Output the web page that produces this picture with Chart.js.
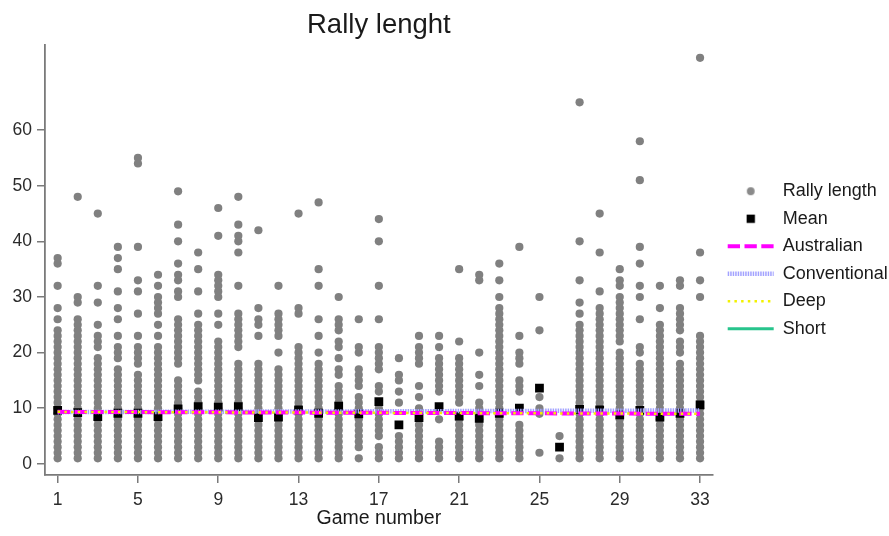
<!DOCTYPE html>
<html>
<head>
<meta charset="utf-8">
<script src="https://cdn.jsdelivr.net/npm/chart.js@4.4.1/dist/chart.umd.min.js"></script>
<style>
html, body { margin: 0; padding: 0; background: #ffffff; }
canvas { display: block; }
</style>
</head>
<body>
<canvas id="chart" width="889" height="536"></canvas>
<script>
// ---------- data ----------
const chartTitle = 'Rally lenght';
const xAxisTitle = 'Game number';
const seriesLabels = ['Rally length', 'Mean', 'Australian', 'Conventional', 'Deep', 'Short'];

const games = [1,2,3,4,5,6,7,8,9,10,11,12,13,14,15,16,17,18,19,20,21,22,23,24,25,26,27,28,29,30,31,32,33];

// distinct rally lengths observed in each game (one list per game)
const rallyLengths = [
  [1,2,3,4,5,6,7,8,9,10,11,12,13,14,15,16,17,18,19,20,21,22,23,24,26,28,32,36,37],
  [1,2,3,4,5,6,7,8,9,10,11,12,13,14,15,16,17,18,19,20,21,22,23,24,25,26,29,30,48],
  [1,2,3,4,5,6,7,8,9,10,11,12,13,14,15,16,17,18,19,21,22,23,25,29,32,45],
  [1,2,3,4,5,6,7,8,9,10,11,12,13,14,15,16,17,19,20,21,23,26,28,31,35,37,39],
  [1,2,3,4,5,6,7,8,9,10,11,12,13,14,15,16,18,19,20,21,23,27,31,33,39,54,55],
  [1,2,3,4,5,6,7,8,9,10,11,12,13,14,15,16,17,18,19,20,21,23,25,27,28,29,30,32,34],
  [1,2,3,4,5,6,7,8,9,10,11,12,13,14,15,18,19,20,21,22,23,24,25,26,30,31,33,34,36,40,43,49],
  [1,2,3,4,5,6,7,8,9,10,11,12,13,15,16,17,18,19,20,21,22,23,24,25,27,31,35,38],
  [1,2,3,4,5,6,7,8,9,10,11,12,13,14,15,16,17,18,19,20,21,22,25,27,30,31,32,33,34,41,46],
  [1,2,3,4,5,6,7,8,9,10,11,12,13,14,15,16,17,18,21,22,23,24,25,26,27,32,38,40,41,43,48],
  [1,2,3,4,5,6,7,8,9,10,11,12,13,14,15,16,17,18,23,25,26,28,42],
  [1,2,3,4,5,6,7,8,9,10,11,12,13,14,15,16,17,20,23,24,25,26,27,32],
  [1,2,3,4,5,6,7,8,9,10,11,12,13,14,15,16,17,18,19,20,21,27,28,45],
  [1,2,3,4,5,6,7,8,9,10,11,12,13,14,15,16,17,18,20,23,26,32,35,47],
  [1,2,3,4,5,6,7,8,9,10,11,12,13,14,16,17,19,21,22,24,25,26,30],
  [1,3,4,5,6,7,8,9,10,11,12,14,15,16,17,20,21,26],
  [1,2,3,5,6,7,8,9,10,13,14,17,18,19,20,21,26,32,40,44],
  [1,2,3,4,5,11,13,15,16,19],
  [1,2,3,4,5,6,7,8,9,10,12,14,18,19,20,21,23],
  [1,2,3,4,8,10,13,14,15,16,17,18,19,21,23],
  [1,2,3,4,5,6,7,8,11,12,13,14,15,16,17,18,19,22,35],
  [1,2,3,4,5,6,7,8,9,10,11,14,16,20,33,34],
  [1,2,3,4,5,6,7,8,9,10,11,12,13,14,15,16,17,18,19,20,21,22,23,24,25,26,27,28,30,33,36],
  [1,2,3,4,5,6,7,10,13,14,15,18,19,20,23,39],
  [2,9,10,12,24,30],
  [1,5],
  [1,2,3,4,5,6,7,8,9,10,11,12,13,14,15,16,17,18,19,20,21,22,23,24,25,27,29,33,40,65],
  [1,2,3,4,5,6,7,8,9,10,11,12,13,14,15,16,17,18,19,20,21,22,23,24,25,26,27,28,31,38,45],
  [1,2,3,4,5,6,7,8,9,10,11,12,13,14,15,16,17,18,19,20,22,23,24,25,26,27,28,29,30,32,33,35],
  [1,2,3,4,5,6,7,8,9,10,11,12,13,14,15,16,17,18,20,21,26,30,32,36,39,51,58],
  [1,2,3,4,5,6,7,8,9,10,11,12,13,14,15,16,17,18,19,20,21,22,23,24,25,28,32],
  [1,2,3,4,5,6,7,8,9,10,11,12,13,14,15,16,17,18,20,21,22,24,25,26,27,28,32,33],
  [1,2,3,4,5,6,7,8,9,10,11,12,13,14,15,16,17,18,19,20,21,22,23,30,33,38,73]
];

const meanLength = [9.6,9.2,8.5,9.1,9.1,8.5,9.9,10.3,10.2,10.3,8.3,8.4,9.7,9.1,10.4,9.0,11.2,7.0,8.3,10.3,8.6,8.2,9.1,10.0,13.6,3.0,9.8,9.7,8.8,9.6,8.4,9.1,10.6];

const lineGames = [1, 33];
const australianLine = [9.35, 9.0];
const conventionalLine = [9.3, 9.6];
const deepLine = [9.35, 9.0];
const shortLine = [];

const xTicks = [1,5,9,13,17,21,25,29,33];
const yTicks = [0,10,20,30,40,50,60];

// ---------- build datasets ----------
const FONT = '"Liberation Sans", Arial, Helvetica, sans-serif';
const AXIS = '#7a7a7a';

function symbolCanvas(kind, color) {
  const c = document.createElement('canvas');
  c.width = 10; c.height = 10;
  const g = c.getContext('2d');
  g.fillStyle = color;
  if (kind === 'circle') { g.beginPath(); g.arc(5, 5, 3.9, 0, Math.PI * 2); g.fill(); }
  else { g.fillRect(0.85, 0.85, 8.3, 8.3); }
  return c;
}

const rallyPoints = [];
rallyLengths.forEach((list, i) => list.forEach(v => rallyPoints.push({x: games[i], y: v})));
const meanPoints = meanLength.map((v, i) => ({x: games[i], y: v}));
const toLine = arr => arr.map((v, i) => ({x: lineGames[i], y: v}));

const datasets = [
  { label: seriesLabels[0], data: rallyPoints, order: 6,
    pointRadius: 4.1, pointBackgroundColor: '#808080', pointBorderWidth: 0, showLine: false,
    legendSymbol: symbolCanvas('circle', '#8a8a8a') },
  { label: seriesLabels[1], data: meanPoints, order: 5,
    pointStyle: 'rect', pointRadius: 6.2, pointBackgroundColor: '#000000', pointBorderWidth: 0, showLine: false,
    legendSymbol: symbolCanvas('rect', '#000000') },
  { label: seriesLabels[2], data: toLine(australianLine), order: 1, showLine: true, pointRadius: 0,
    borderColor: '#ff00ff', borderWidth: 4, borderDash: [12.3, 4.5], legendSymbol: 'line' },
  { label: seriesLabels[3], data: toLine(conventionalLine), order: 2, showLine: true, pointRadius: 0,
    borderColor: '#a2a2ff', borderWidth: 4.5, borderDash: [1.5, 1], legendSymbol: 'line' },
  { label: seriesLabels[4], data: toLine(deepLine), order: 0, showLine: true, pointRadius: 0,
    borderColor: '#f2f200', borderWidth: 2.5, borderDash: [2.5, 4.2], legendSymbol: 'line' },
  { label: seriesLabels[5], data: toLine(shortLine), order: 3, showLine: true, pointRadius: 0,
    borderColor: '#27c48c', borderWidth: 3, legendSymbol: 'line' }
];

const legendShift = {
  id: 'legendShift',
  afterLayout(chart) {
    if (chart.legend) { chart.legend.left += 5.5; chart.legend.right += 5.5; }
  }
};

new Chart(document.getElementById('chart'), {
  type: 'scatter',
  data: { datasets },
  plugins: [legendShift],
  options: {
    responsive: false,
    animation: false,
    devicePixelRatio: 1,
    layout: { padding: { left: 0, right: 0, top: 0, bottom: 0 } },
    plugins: {
      tooltip: { enabled: false },
      title: {
        display: true, text: chartTitle, fullSize: false, color: '#1a1a1a',
        font: { family: FONT, size: 27.5, weight: 'normal' },
        padding: { top: 9, bottom: 3 }
      },
      legend: {
        display: true, position: 'right', align: 'center', fullSize: false, maxWidth: 176.3,
        labels: {
          usePointStyle: true, pointStyleWidth: 46, boxHeight: 8,
          padding: 9.5, color: '#1a1a1a',
          font: { family: FONT, size: 18 },
          generateLabels(chart) {
            return chart.data.datasets.map((ds, i) => ({
              text: ds.label,
              datasetIndex: i,
              fillStyle: 'rgba(0,0,0,0)',
              strokeStyle: ds.borderColor || '#000',
              lineWidth: ds.legendSymbol === 'line' ? ds.borderWidth : 0,
              lineDash: ds.borderDash || [],
              lineCap: 'butt',
              pointStyle: ds.legendSymbol,
              hidden: false,
              fontColor: '#1a1a1a'
            }));
          }
        }
      }
    },
    scales: {
      x: {
        type: 'linear', position: 'bottom', min: 0.37, max: 33.63,
        afterBuildTicks(scale) { scale.ticks = xTicks.map(v => ({ value: v })); },
        afterFit(scale) { scale.height = 61; },
        ticks: { color: '#2b2b2b', padding: 6.5, maxRotation: 0, autoSkip: false,
                 font: { family: FONT, size: 17.5 }, callback: v => String(v) },
        grid: { display: true, drawOnChartArea: false, drawTicks: true, tickLength: 8,
                color: AXIS, lineWidth: 1.5 },
        border: { display: true, color: AXIS, width: 1.8 },
        title: { display: true, text: xAxisTitle, color: '#1a1a1a',
                 font: { family: FONT, size: 19.5 }, padding: { top: 0, bottom: 6 } }
      },
      y: {
        type: 'linear', position: 'left', min: -2, max: 75.3,
        afterBuildTicks(scale) { scale.ticks = yTicks.map(v => ({ value: v })); },
        afterFit(scale) { scale.width = 45; },
        ticks: { color: '#2b2b2b', padding: 5, autoSkip: false,
                 font: { family: FONT, size: 17.5 }, callback: v => String(v) },
        grid: { display: true, drawOnChartArea: false, drawTicks: true, tickLength: 8,
                color: AXIS, lineWidth: 1.5 },
        border: { display: true, color: AXIS, width: 1.8 }
      }
    }
  }
});
</script>
</body>
</html>
